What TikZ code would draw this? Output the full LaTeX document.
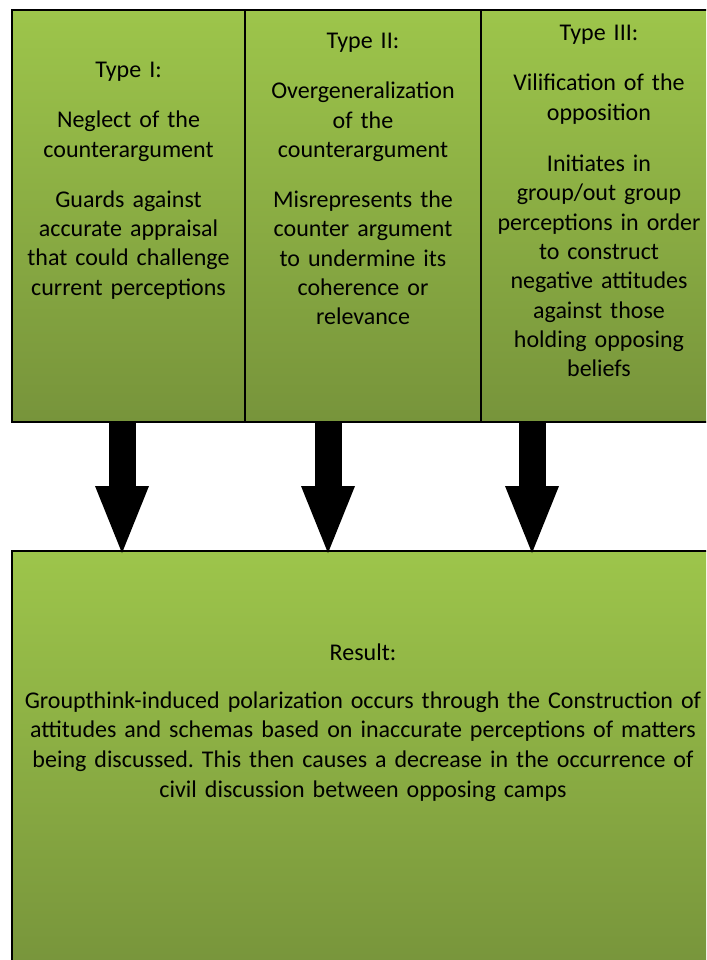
\documentclass[tikz,border=0pt]{standalone}
\usepackage{fontspec}
\setmainfont{Carlito}
\usepackage{xcolor}
\usetikzlibrary{arrows.meta,positioning}
\frenchspacing

\definecolor{gtop}{RGB}{157,197,75}
\definecolor{gbot}{RGB}{119,148,59}

\begin{document}
\begin{tikzpicture}[x=1pt, y=-1pt,
  box/.style={draw=black, line width=2pt, top color=gtop, bottom color=gbot, inner sep=0pt},
  txt/.style={text width=228pt, align=center, anchor=base, inner sep=0pt,
    font=\fontsize{24}{29.3}\selectfont},
  bigarrow/.style={line width=27pt, -{Triangle[width=54pt,length=67pt,line width=0pt]}}]
  \useasboundingbox (0,0) rectangle (706,960);
  \clip (0,0) rectangle (706,960);

  % three kinds of counterargument handling
  \node[box, minimum width=233pt, minimum height=412pt] (t1) at (128.5,216) {};
  \node[box, minimum width=236pt, minimum height=412pt] (t2) at (363,216) {};
  \node[box, minimum width=236pt, minimum height=412pt] (t3) at (599,216) {};

  \node[txt] (t1txt) at (128.5,78) {Type I:\\[20.7pt]
    Neglect of the\\ counterargument\\[20.7pt]
    Guards against\\ accurate appraisal\\ that could challenge\\ current perceptions};
  \node[txt] (t2txt) at (363,49) {Type II:\\[20.7pt]
    Overgeneralization\\ of the\\ counterargument\\[20.7pt]
    Misrepresents the\\ counter argument\\ to undermine its\\ coherence or\\ relevance};
  \node[txt] (t3txt) at (599,41) {Type III:\\[20.7pt]
    Vilification of the\\ opposition\\[22pt]
    Initiates in\\ group/out group\\ perceptions in order\\ to construct\\ negative attitudes\\ against those\\ holding opposing\\ beliefs};

  % result box
  \node[box, minimum width=708pt, minimum height=424pt] (res) at (366,763) {};
  \node[txt, text width=700pt, font=\fontsize{24}{29.7}\selectfont] (restxt) at (363,660) {Result:\\[18.5pt]
    Groupthink-induced polarization occurs through the Construction of\\
    attitudes and schemas based on inaccurate perceptions of matters\\
    being discussed. This then causes a decrease in the occurrence of\\
    civil discussion between opposing camps};

  \coordinate (a1) at (122,422);
  \coordinate (a2) at (328,422);
  \coordinate (a3) at (532,422);
  \draw[bigarrow] (a1) -- ([yshift=-3pt]a1 |- res.north);
  \draw[bigarrow] (a2) -- ([yshift=-3pt]a2 |- res.north);
  \draw[bigarrow] (a3) -- ([yshift=-3pt]a3 |- res.north);
\end{tikzpicture}
\end{document}
